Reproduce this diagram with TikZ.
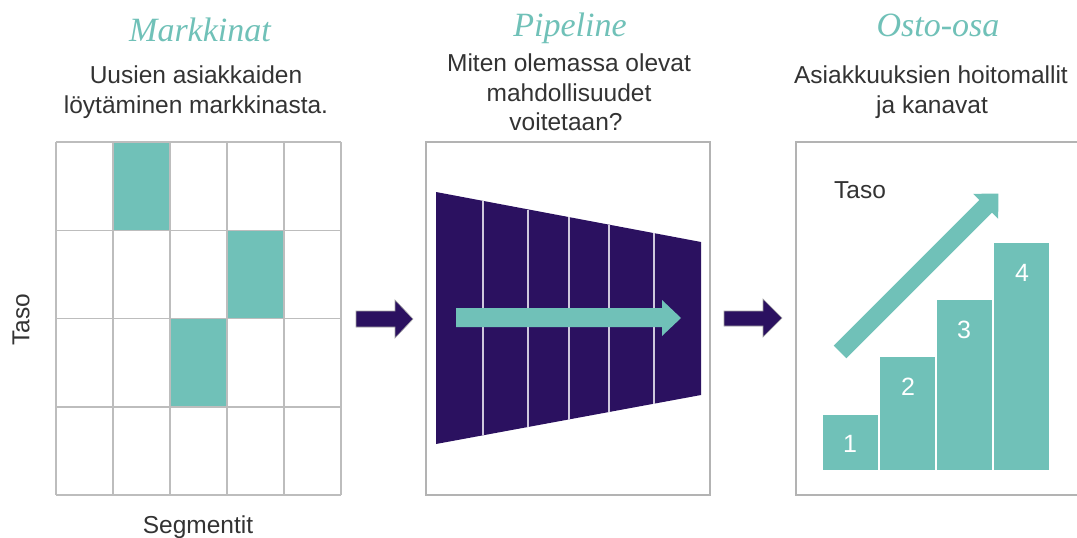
\documentclass[tikz,border=0pt]{standalone}
\usepackage{fontspec}
\setmainfont{Liberation Sans}
\newfontfamily\titlefont{Liberation Serif}
\definecolor{tealc}{HTML}{70C1B8}
\definecolor{navyc}{HTML}{2B1160}
\definecolor{txtc}{HTML}{333333}
\definecolor{gridc}{HTML}{BDBDBD}
\definecolor{boxc}{HTML}{B3B3B3}
\definecolor{divc}{HTML}{CFC8DD}
\tikzset{
  ttl/.style={font=\titlefont\itshape\fontsize{34}{38}\selectfont, text=tealc, anchor=base, inner sep=0},
  sub/.style={font=\fontsize{24.5}{30}\selectfont, text=txtc, anchor=base, inner sep=0},
  num/.style={font=\fontsize{25}{28}\selectfont, text=white, inner sep=0},
  gridline/.style={draw=gridc, line width=1.5pt},
  boxline/.style={draw=boxc, line width=1.5pt},
  divline/.style={draw=divc, line width=1.3pt},
  purplearrow/.style={fill=navyc, draw=gray!70, line width=0.6pt},
}
\begin{document}
\begin{tikzpicture}[x=1pt,y=-1pt]
\useasboundingbox (0,0) rectangle (1077,538);
\clip (0,0) rectangle (1077,538);
\fill[white] (0,0) rectangle (1077,538);

% ---------- titles ----------
\node[ttl] (t1) at (200,41) {Markkinat};
\node[ttl] (t2) at (570,36) {Pipeline};
\node[ttl] (t3) at (938,36) {Osto-osa};

\node[sub] (s1a) at (196,83) {Uusien asiakkaiden};
\node[sub] (s1b) at (196,113) {löytäminen markkinasta.};

\node[sub] (s2a) at (569,71) {Miten olemassa olevat};
\node[sub] (s2b) at (569,101) {mahdollisuudet};
\node[sub] (s2c) at (566,130) {voitetaan?};

\node[sub] (s3a) at (931,83) {Asiakkuuksien hoitomallit};
\node[sub] (s3b) at (932,113) {ja kanavat};

% ---------- left grid ----------
\fill[tealc] (113,142) rectangle (170,230.25);
\fill[tealc] (227,230.25) rectangle (284,318.5);
\fill[tealc] (170,318.5) rectangle (227,406.75);
\foreach \xx in {56,113,170,227,284,341}
  \draw[gridline] (\xx,142) -- (\xx,495);
\foreach \yy in {142,230.25,318.5,406.75,495}
  \draw[gridline] (56,\yy) -- (341,\yy);
\node[font=\fontsize{24.5}{28}\selectfont, text=txtc, rotate=90, inner sep=0] (ytaso) at (21,320) {Taso};
\node[sub] (xseg) at (198,533) {Segmentit};

% ---------- arrows between panels ----------
\draw[purplearrow] (356,311) -- (395,311) -- (395,300) -- (413,319) -- (395,338) -- (395,327) -- (356,327) -- cycle;
\draw[purplearrow] (724,311) -- (763,311) -- (763,299) -- (782,318) -- (763,337) -- (763,326) -- (724,326) -- cycle;

% ---------- pipeline ----------
\draw[boxline] (426,142) rectangle (710,495);
\fill[navyc] (436,192) -- (701,242) -- (701,395) -- (436,444) -- cycle;
\draw[divline] (483,201) -- (483,435);
\draw[divline] (528,209.5) -- (528,427);
\draw[divline] (569,217) -- (569,419.5);
\draw[divline] (609,224.5) -- (609,412);
\draw[divline] (654,233) -- (654,403.5);
\fill[tealc] (456,308) -- (662,308) -- (662,300) -- (681,318) -- (662,336) -- (662,327) -- (456,327) -- cycle;

% ---------- osto-osa ----------
\draw[boxline] (796,142) rectangle (1095,495);
\node[sub] (rtaso) at (860,198) {Taso};
\fill[tealc] (823,415) rectangle (878,470);
\fill[tealc] (880,357) rectangle (935,470);
\fill[tealc] (937,300) rectangle (992,470);
\fill[tealc] (994,243) rectangle (1049,470);
\node[num] (n1) at (850,444) {1};
\node[num] (n2) at (908,387) {2};
\node[num] (n3) at (964,330) {3};
\node[num] (n4) at (1022,273) {4};
\begin{scope}[shift={(840,352)}, rotate=45]
  \fill[tealc] (0,-9) -- (206,-9) -- (206,-17.7) -- (224,0) -- (206,17.7) -- (206,9) -- (0,9) -- cycle;
\end{scope}
\end{tikzpicture}
\end{document}
